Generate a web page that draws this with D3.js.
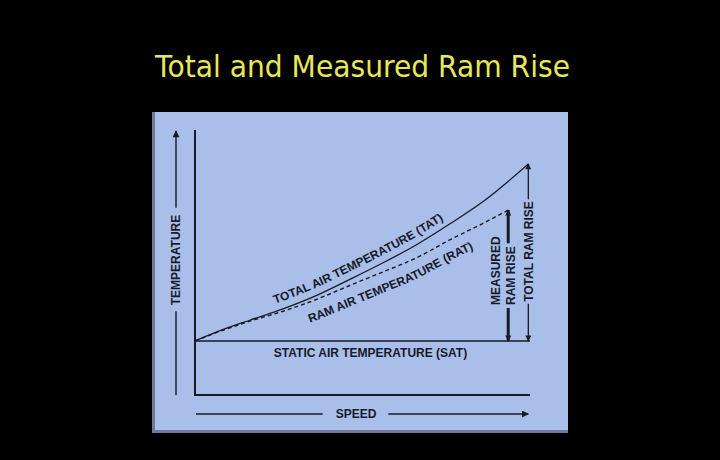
<!DOCTYPE html>
<html>
<head>
<meta charset="utf-8">
<script src="https://cdn.jsdelivr.net/npm/d3@7.9.0/dist/d3.min.js"></script>
<style>
  body { margin: 0; background: #000; }
  svg { display: block; }
</style>
</head>
<body>
<svg id="chart" width="720" height="460"></svg>
<script>
// values (speed 0-100, temperature 0-100, arbitrary units)
const tatSpeed = [0, 6.5, 16.5, 26.5, 36.5, 46.5, 56, 66, 76, 86, 99.5];
const tatTemp  = [20.4, 23.8, 28.3, 32.6, 37.7, 43.8, 49.8, 56.6, 64.5, 73.0, 87.2];
const ratSpeed = [0, 6.5, 16.5, 26.5, 36.5, 46.5, 56, 66, 76, 86, 93.5];
const ratTemp  = [20.4, 23.6, 27.9, 31.7, 36.2, 41.5, 46.4, 51.7, 58.5, 64.8, 69.8];
const satTemp = 20.4;
const satSpeedEnd = 100;

const title = 'Total and Measured Ram Rise';
const xLabel = 'SPEED';
const yLabel = 'TEMPERATURE';
const tatLabel = 'TOTAL AIR TEMPERATURE (TAT)';
const ratLabel = 'RAM AIR TEMPERATURE (RAT)';
const satLabel = 'STATIC AIR TEMPERATURE (SAT)';
const totalRiseLabel = 'TOTAL RAM RISE';
const measuredLabel = ['MEASURED', 'RAM RISE'];

const ink = '#161b29';
const font = '"Liberation Sans", Arial, sans-serif';

const svg = d3.select('#chart');
const x = d3.scaleLinear().domain([0, 100]).range([195, 530]);
const y = d3.scaleLinear().domain([0, 100]).range([395, 130]);

// title
svg.append('text')
  .attr('x', 362.5).attr('y', 77)
  .attr('text-anchor', 'middle')
  .attr('font-family', '"DejaVu Sans", Verdana, sans-serif')
  .attr('font-size', 30)
  .attr('textLength', 415)
  .attr('lengthAdjust', 'spacingAndGlyphs')
  .attr('fill', '#e6e85a')
  .text(title);

// panel
svg.append('rect')
  .attr('x', 152).attr('y', 112).attr('width', 416).attr('height', 321)
  .attr('fill', '#a9bee9');
svg.append('path')
  .attr('d', 'M153.5,112 V431.5 H568')
  .attr('fill', 'none').attr('stroke', '#6f7b98').attr('stroke-width', 3);

const defs = svg.append('defs');
function marker(id, w, h) {
  defs.append('marker')
    .attr('id', id)
    .attr('viewBox', '0 0 10 10')
    .attr('refX', 9).attr('refY', 5)
    .attr('markerWidth', w).attr('markerHeight', h)
    .attr('markerUnits', 'userSpaceOnUse')
    .attr('orient', 'auto')
    .append('path').attr('d', 'M0,0L10,5L0,10Z').attr('fill', ink);
}
marker('head', 9, 7);
marker('small', 7, 6);

// axes
svg.append('path')
  .attr('d', `M${x(0)},${y(100)} V${y(0)} H${x(100)}`)
  .attr('fill', 'none').attr('stroke', ink).attr('stroke-width', 2);

// SAT line
svg.append('line')
  .attr('x1', x(0)).attr('x2', x(satSpeedEnd))
  .attr('y1', y(satTemp)).attr('y2', y(satTemp))
  .attr('stroke', ink).attr('stroke-width', 1.6);

const tatData = tatSpeed.map((s, i) => [s, tatTemp[i]]);
const ratData = ratSpeed.map((s, i) => [s, ratTemp[i]]);
const line = (dy) => d3.line()
  .x(d => x(d[0]))
  .y(d => y(d[1]) + dy)
  .curve(d3.curveMonotoneX);

svg.append('path')
  .attr('d', line(0)(tatData))
  .attr('fill', 'none').attr('stroke', ink).attr('stroke-width', 1.3);
svg.append('path')
  .attr('d', line(0)(ratData))
  .attr('fill', 'none').attr('stroke', ink).attr('stroke-width', 1.4)
  .attr('stroke-dasharray', '4,3');

// labels that follow the curves
defs.append('path').attr('id', 'tatPath').attr('d', line(-8)(tatData));
defs.append('path').attr('id', 'ratPath').attr('d', line(21)(ratData));

function lengthAtX(node, px) {
  let lo = 0, hi = node.getTotalLength();
  for (let k = 0; k < 40; k++) {
    const mid = (lo + hi) / 2;
    if (node.getPointAtLength(mid).x < px) lo = mid; else hi = mid;
  }
  return lo;
}

function curveLabel(id, label, startPx) {
  const node = document.getElementById(id);
  svg.append('text')
    .attr('font-family', font).attr('font-weight', 'bold')
    .attr('font-size', 12).attr('fill', ink)
    .append('textPath')
    .attr('href', '#' + id)
    .attr('startOffset', lengthAtX(node, startPx))
    .text(label);
}
curveLabel('tatPath', tatLabel, 275);
curveLabel('ratPath', ratLabel, 310);

svg.append('text')
  .attr('x', (x(0) + x(satSpeedEnd)) / 2 + 8).attr('y', y(satTemp) + 16)
  .attr('text-anchor', 'middle')
  .attr('font-family', font).attr('font-weight', 'bold')
  .attr('font-size', 12).attr('fill', ink)
  .text(satLabel);

// vertical label helper: rotated text, returns its length
function vText(px, py, label, anchor) {
  const t = svg.append('text')
    .attr('transform', `translate(${px},${py}) rotate(-90)`)
    .attr('text-anchor', anchor)
    .attr('dy', '0.36em')
    .attr('font-family', font).attr('font-weight', 'bold')
    .attr('font-size', 12).attr('fill', ink)
    .text(label);
  return t.node().getComputedTextLength();
}

function seg(x1, y1, x2, y2, w, head) {
  const l = svg.append('line')
    .attr('x1', x1).attr('y1', y1).attr('x2', x2).attr('y2', y2)
    .attr('stroke', ink).attr('stroke-width', w);
  if (head) l.attr('marker-end', `url(#${head})`);
}

// temperature arrow
const tx = x(0) - 19;
const tMid = 260;
const tLen = vText(tx, tMid, yLabel, 'middle');
seg(tx, y(0), tx, tMid + tLen / 2 + 6, 1.4);
seg(tx, tMid - tLen / 2 - 7, tx, y(100) + 1, 1.4, 'head');

// speed arrow
const sy = y(0) + 19;
const sMid = 356;
const sT = svg.append('text')
  .attr('x', sMid).attr('y', sy).attr('dy', '0.36em')
  .attr('text-anchor', 'middle')
  .attr('font-family', font).attr('font-weight', 'bold')
  .attr('font-size', 12).attr('fill', ink)
  .text(xLabel);
const sLen = sT.node().getComputedTextLength();
seg(x(0) + 1, sy, sMid - sLen / 2 - 13, sy, 1.4);
seg(sMid + sLen / 2 + 12, sy, x(99.5), sy, 1.4, 'head');

// total ram rise arrow
const totX = x(tatSpeed[tatSpeed.length - 1]);
const totTop = y(tatTemp[tatTemp.length - 1]);
const totMid = 251.5;
const totLen = vText(totX, totMid, totalRiseLabel, 'middle');
seg(totX, totMid - totLen / 2 - 2, totX, totTop, 1.3, 'small');
seg(totX, totMid + totLen / 2 + 2, totX, y(satTemp), 1.3, 'small');

// measured ram rise arrow
const mX = x(ratSpeed[ratSpeed.length - 1]);
const mTop = y(ratTemp[ratTemp.length - 1]);
const mBase = 305;
vText(mX - 13, mBase, measuredLabel[0], 'start');
const mLen = vText(mX + 2, mBase, measuredLabel[1], 'start');
seg(mX, mBase - mLen - 3, mX, mTop, 3, 'small');
seg(mX, mBase + 3, mX, y(satTemp), 3, 'small');
</script>
</body>
</html>
